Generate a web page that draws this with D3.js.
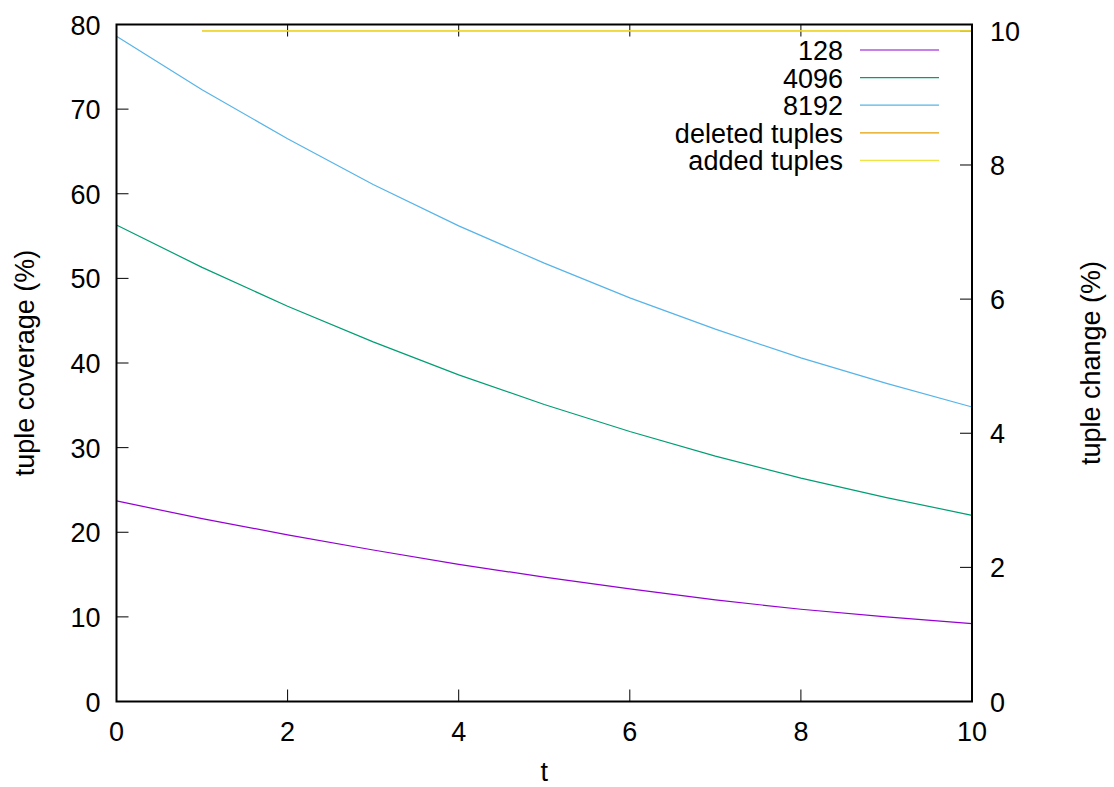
<!DOCTYPE html>
<html>
<head>
<meta charset="utf-8">
<script src="https://cdn.jsdelivr.net/npm/d3@7"></script>
<style>
  body { margin: 0; background: #fff; }
  svg text { font-family: "Liberation Sans", Arial, sans-serif; font-size: 27px; fill: #000; }
</style>
</head>
<body>
<div id="chart"></div>
<script>
// data
var tValues = [0, 1, 2, 3, 4, 5, 6, 7, 8, 9, 10];
var cov128 = [23.7, 21.6, 19.7, 17.9, 16.2, 14.7, 13.3, 12.0, 10.9, 10.0, 9.2];
var cov4096 = [56.3, 51.3, 46.7, 42.5, 38.6, 35.1, 31.9, 29.0, 26.4, 24.1, 22.0];
var cov8192 = [78.6, 72.3, 66.5, 61.1, 56.2, 51.8, 47.7, 44.0, 40.6, 37.6, 34.8];
var changeT = [1, 2, 3, 4, 5, 6, 7, 8, 9, 10];
var deletedTuples = [10, 10, 10, 10, 10, 10, 10, 10, 10, 10];
var addedTuples = [10, 10, 10, 10, 10, 10, 10, 10, 10, 10];
var xTicks = [0, 2, 4, 6, 8, 10];
var yTicks = [0, 10, 20, 30, 40, 50, 60, 70, 80];
var y2Ticks = [0, 2, 4, 6, 8, 10];

var width = 1114, height = 787;
var plotL = 116.5, plotR = 972, plotT = 24.5, plotB = 701.5;

var svg = d3.select('#chart').append('svg')
  .attr('width', width).attr('height', height);

var x = d3.scaleLinear().domain([0, 10]).range([plotL, plotR]);
var y = d3.scaleLinear().domain([0, 80]).range([plotB, plotT]);
var y2 = d3.scaleLinear().domain([0, 10.095]).range([plotB, plotT]);

// ticks
var tickLen = 12;
var ticks = svg.append('g').attr('stroke', '#000').attr('stroke-width', 1);
xTicks.forEach(function(d) {
  ticks.append('line').attr('x1', x(d)).attr('x2', x(d)).attr('y1', plotB).attr('y2', plotB - tickLen);
  ticks.append('line').attr('x1', x(d)).attr('x2', x(d)).attr('y1', plotT).attr('y2', plotT + tickLen);
  svg.append('text').attr('x', x(d)).attr('y', plotB + 39).attr('text-anchor', 'middle').text(d);
});
yTicks.forEach(function(d) {
  ticks.append('line').attr('x1', plotL).attr('x2', plotL + tickLen).attr('y1', y(d)).attr('y2', y(d));
  svg.append('text').attr('x', plotL - 16).attr('y', y(d) + 10).attr('text-anchor', 'end').text(d);
});
y2Ticks.forEach(function(d) {
  ticks.append('line').attr('x1', plotR).attr('x2', plotR - tickLen).attr('y1', y2(d)).attr('y2', y2(d));
  svg.append('text').attr('x', plotR + 18).attr('y', y2(d) + 10).attr('text-anchor', 'start').text(d);
});

// series
var series = [
  { label: '128', xs: tValues, ys: cov128, scale: y, color: '#9400d3' },
  { label: '4096', xs: tValues, ys: cov4096, scale: y, color: '#009e73' },
  { label: '8192', xs: tValues, ys: cov8192, scale: y, color: '#56b4e9' },
  { label: 'deleted tuples', xs: changeT, ys: deletedTuples, scale: y2, color: '#e69f00' },
  { label: 'added tuples', xs: changeT, ys: addedTuples, scale: y2, color: '#f0e442' }
];

series.forEach(function(s) {
  var line = d3.line()
    .x(function(d, i) { return x(s.xs[i]); })
    .y(function(d) { return s.scale(d); });
  svg.append('path')
    .attr('d', line(s.ys))
    .attr('fill', 'none')
    .attr('stroke', s.color)
    .attr('stroke-width', 1.2);
});

// legend
var legend = svg.selectAll('.legend')
  .data(series)
  .enter()
  .append('g')
  .attr('class', 'legend')
  .attr('transform', function(d, i) { return 'translate(0,' + (50 + i * 27.6) + ')'; });
legend.append('text')
  .attr('x', 843).attr('y', 10)
  .attr('text-anchor', 'end')
  .text(function(d) { return d.label; });
legend.append('line')
  .attr('x1', 860).attr('x2', 939)
  .attr('y1', 0).attr('y2', 0)
  .attr('stroke', function(d) { return d.color; })
  .attr('stroke-width', 1.2);

// frame
svg.append('rect')
  .attr('x', plotL).attr('y', plotT)
  .attr('width', plotR - plotL).attr('height', plotB - plotT)
  .attr('fill', 'none').attr('stroke', '#000').attr('stroke-width', 2);

// axis labels
svg.append('text').attr('x', (plotL + plotR) / 2).attr('y', 781).attr('text-anchor', 'middle').text('t');
svg.append('text')
  .attr('transform', 'translate(34,' + ((plotT + plotB) / 2) + ') rotate(-90)')
  .attr('text-anchor', 'middle').text('tuple coverage (%)');
svg.append('text')
  .attr('transform', 'translate(1100,' + ((plotT + plotB) / 2) + ') rotate(-90)')
  .attr('text-anchor', 'middle').text('tuple change (%)');
</script>
</body>
</html>
